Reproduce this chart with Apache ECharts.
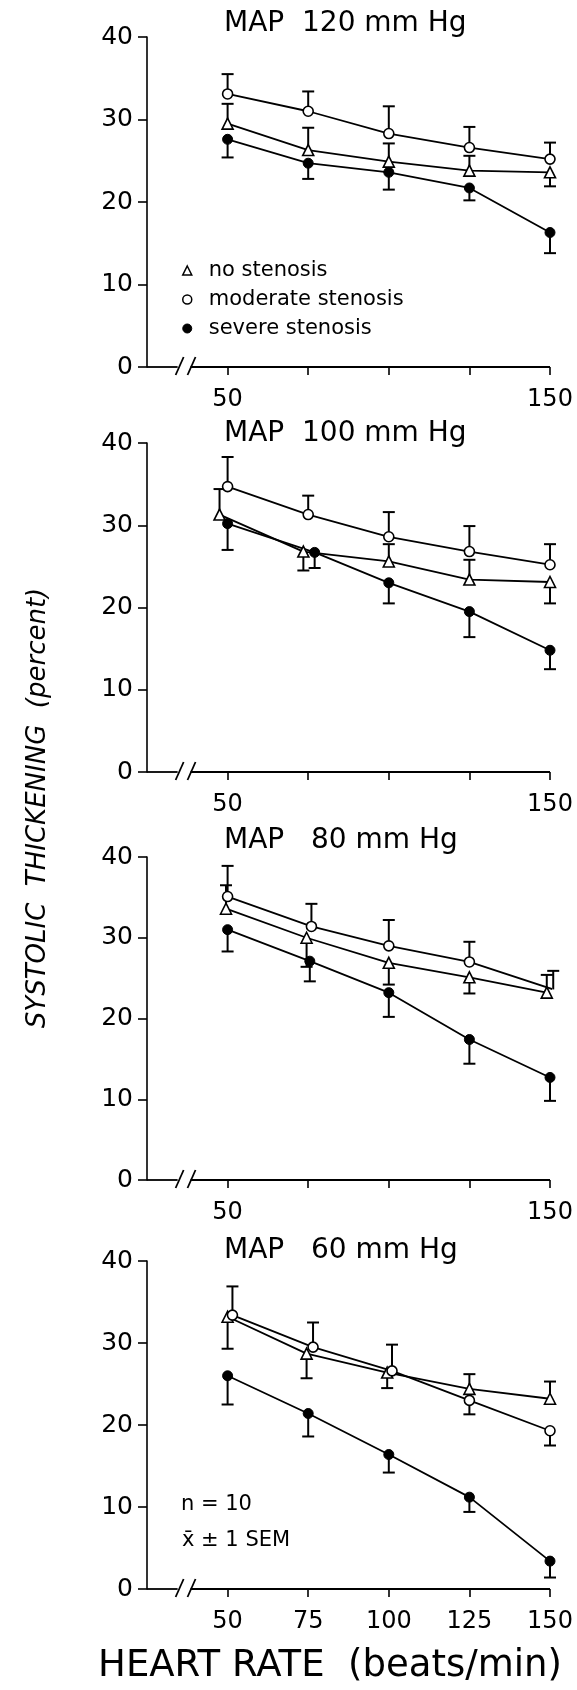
<!DOCTYPE html>
<html><head><meta charset="utf-8">
<script src="https://cdn.jsdelivr.net/npm/echarts@6/dist/echarts.min.js"></script>
<style>html,body{margin:0;padding:0;background:#fff}#c{width:577px;height:1690px}</style>
</head><body><div id="c"></div>
<script>
// ---- data ----
const panelTitles = ['MAP  120 mm Hg', 'MAP  100 mm Hg', 'MAP   80 mm Hg', 'MAP   60 mm Hg'];
const heartRateTicks = [50, 75, 100, 125, 150];
const tickLabelsUpper = [50, 150];
const tickLabelsBottom = [50, 75, 100, 125, 150];
const seriesNames = ['no stenosis', 'moderate stenosis', 'severe stenosis'];

// x positions as plotted (small offsets as drawn in the figure)
const noneX = [[50,75,100,125,150],[47.5,73.5,100,125,150],[49.5,74.5,100,125,149],[50,74.5,99.5,125,150]];
const noneY = [[29.5,26.3,24.9,23.8,23.6],[31.3,26.8,25.6,23.4,23.1],[33.6,30.0,26.9,25.1,23.2],[33.2,28.7,26.4,24.4,23.2]];
const noneSem = [[2.4,2.7,2.2,1.8,-1.7],[3.1,-2.3,2.1,2.4,-2.6],[2.9,-3.6,-2.7,-2.0,2.2],[-3.9,-3.0,-1.9,1.8,2.1]];

const modX = [[50,75,100,125,150],[50,75,100,125,150],[50,76,100,125,151],[51.5,76.5,101,125,150]];
const modY = [[33.1,31.0,28.3,26.6,25.2],[34.7,31.3,28.6,26.8,25.2],[35.1,31.4,29.0,27.0,23.6],[33.4,29.5,26.6,23.0,19.3]];
const modSem = [[2.4,2.4,3.3,2.5,2.0],[3.6,2.3,3.0,3.1,2.5],[3.8,2.8,3.2,2.5,2.3],[3.5,3.0,3.2,-1.7,-1.8]];

const sevX = [[50,75,100,125,150],[50,77,100,125,150],[50,75.5,100,125,150],[50,75,100,125,150]];
const sevY = [[27.6,24.7,23.6,21.7,16.3],[30.2,26.7,23.0,19.5,14.8],[31.0,27.1,23.2,17.4,12.7],[26.0,21.4,16.4,11.2,3.4]];
const sevSem = [[-2.2,-1.9,-2.1,-1.5,-2.5],[-3.2,-1.9,-2.5,-3.1,-2.3],[-2.7,-2.5,-3.0,-3.0,-2.9],[-3.5,-2.8,-2.2,-1.8,-2.0]];

// ---- layout ----
const FONT = 'DejaVu Sans';
const gridTops = [37, 443, 857, 1261];
const gridHeights = [330, 329, 323, 328];
const X_MIN = 25, X_MAX = 150;
const BREAK_LO = 34.5, BREAK_HI = 38.5;

const chart = echarts.init(document.getElementById('c'), null, {renderer: 'canvas'});

const grids = [], xAxes = [], yAxes = [], series = [], titles = [];

const symbolDefs = [
  {symbol: 'triangle', size: 11, itemStyle: {color: '#fff', borderColor: '#000', borderWidth: 1.6}},
  {symbol: 'circle', size: 10, itemStyle: {color: '#fff', borderColor: '#000', borderWidth: 1.6}},
  {symbol: 'circle', size: 10, itemStyle: {color: '#000', borderColor: '#000', borderWidth: 1}}
];

function errRender(params, api) {
  const x = api.value(0), y = api.value(1), s = api.value(2);
  const p0 = api.coord([x, y]);
  const p1 = api.coord([x, y + s]);
  const hw = 6;
  const st = {stroke: '#000', lineWidth: 2};
  return {type: 'group', children: [
    {type: 'line', shape: {x1: p0[0], y1: p0[1], x2: p1[0], y2: p1[1]}, style: st},
    {type: 'line', shape: {x1: p1[0] - hw, y1: p1[1], x2: p1[0] + hw, y2: p1[1]}, style: st}
  ]};
}

function axisBreakRender(params, api) {
  const a = api.coord([X_MIN, 0]);
  const b1 = api.coord([BREAK_LO, 0]);
  const b2 = api.coord([BREAK_HI, 0]);
  const e = api.coord([X_MAX, 0]);
  const st = {stroke: '#000', lineWidth: 1.8};
  const y = a[1];
  const slash = (cx) => ({type: 'line', shape: {x1: cx - 4, y1: y + 8, x2: cx + 4, y2: y - 10}, style: st});
  return {type: 'group', children: [
    {type: 'line', shape: {x1: a[0], y1: y, x2: b1[0], y2: y}, style: st},
    {type: 'line', shape: {x1: b2[0], y1: y, x2: e[0], y2: y}, style: st},
    slash(b1[0] + 2),
    slash(b2[0] + 1)
  ]};
}

for (let i = 0; i < 4; i++) {
  grids.push({left: 147, right: 27, top: gridTops[i], height: gridHeights[i], containLabel: false});
  xAxes.push({
    type: 'value', gridIndex: i, min: X_MIN, max: X_MAX, interval: 25,
    axisLine: {show: false},
    axisTick: {show: true, length: 8, customValues: heartRateTicks, lineStyle: {color: '#000', width: 1.6}},
    axisLabel: {show: true, customValues: i === 3 ? tickLabelsBottom : tickLabelsUpper, color: '#000',
      fontFamily: FONT, fontSize: 24, margin: 21},
    splitLine: {show: false}
  });
  yAxes.push({
    type: 'value', gridIndex: i, min: 0, max: 40, interval: 10,
    axisLine: {show: true, lineStyle: {color: '#000', width: 1.6}},
    axisTick: {show: true, length: 9, lineStyle: {color: '#000', width: 1.6}},
    axisLabel: {color: '#000', fontFamily: FONT, fontSize: 25, margin: 14},
    splitLine: {show: false}
  });
  titles.push({text: panelTitles[i], left: 224, top: [10, 420, 827, 1237][i], padding: 0,
    textStyle: {fontFamily: FONT, fontSize: 28, fontWeight: 'normal', color: '#000'}});

  const groups = [[noneX, noneY, noneSem], [modX, modY, modSem], [sevX, sevY, sevSem]];
  groups.forEach((g, k) => {
    const xs = g[0][i], ys = g[1][i], ss = g[2][i];
    series.push({
      type: 'custom', name: seriesNames[k], xAxisIndex: i, yAxisIndex: i, z: 1,
      renderItem: errRender, clip: false, silent: true,
      data: xs.map((x, j) => [x, ys[j], ss[j]])
    });
    series.push({
      type: 'line', name: seriesNames[k], xAxisIndex: i, yAxisIndex: i, z: 3,
      symbol: symbolDefs[k].symbol, symbolSize: symbolDefs[k].size,
      itemStyle: symbolDefs[k].itemStyle,
      lineStyle: {color: '#000', width: 1.8},
      showAllSymbol: true, animation: false,
      data: xs.map((x, j) => [x, ys[j]])
    });
  });
  series.push({
    type: 'custom', xAxisIndex: i, yAxisIndex: i, z: 2, clip: false, silent: true,
    renderItem: axisBreakRender, data: [[X_MIN, 0]]
  });
}

titles.push({text: 'n = 10', left: 181, top: 1494, padding: 0,
  textStyle: {fontFamily: FONT, fontSize: 21, fontWeight: 'normal', color: '#000'}});
titles.push({text: 'x\u0304 \u00b1 1 SEM', left: 182, top: 1530, padding: 0,
  textStyle: {fontFamily: FONT, fontSize: 21, fontWeight: 'normal', color: '#000'}});

chart.setOption({
  animation: false,
  backgroundColor: '#fff',
  title: titles,
  legend: {
    orient: 'vertical', left: 177, top: 255, itemWidth: 9, itemHeight: 9, itemGap: 8,
    textStyle: {fontFamily: FONT, fontSize: 21, color: '#000', padding: [0, 0, 0, 12]},
    selectedMode: false,
    data: [
      {name: seriesNames[0], icon: 'triangle', itemStyle: {color: '#fff', borderColor: '#000', borderWidth: 1.5}},
      {name: seriesNames[1], icon: 'circle', itemStyle: {color: '#fff', borderColor: '#000', borderWidth: 1.5}},
      {name: seriesNames[2], icon: 'circle', itemStyle: {color: '#000', borderColor: '#000', borderWidth: 1}}
    ]
  },
  graphic: [
    {type: 'text', rotation: Math.PI / 2, x: 38, y: 808,
      style: {text: 'SYSTOLIC  THICKENING  (percent)', fontFamily: FONT, fontSize: 26, fontStyle: 'italic',
        fill: '#000', align: 'center', verticalAlign: 'middle'}},
    {type: 'text', x: 330, y: 1666,
      style: {text: 'HEART RATE  (beats/min)', fontFamily: FONT, fontSize: 37,
        fill: '#000', align: 'center', verticalAlign: 'middle'}}
  ],
  grid: grids, xAxis: xAxes, yAxis: yAxes, series: series
});
</script></body></html>
